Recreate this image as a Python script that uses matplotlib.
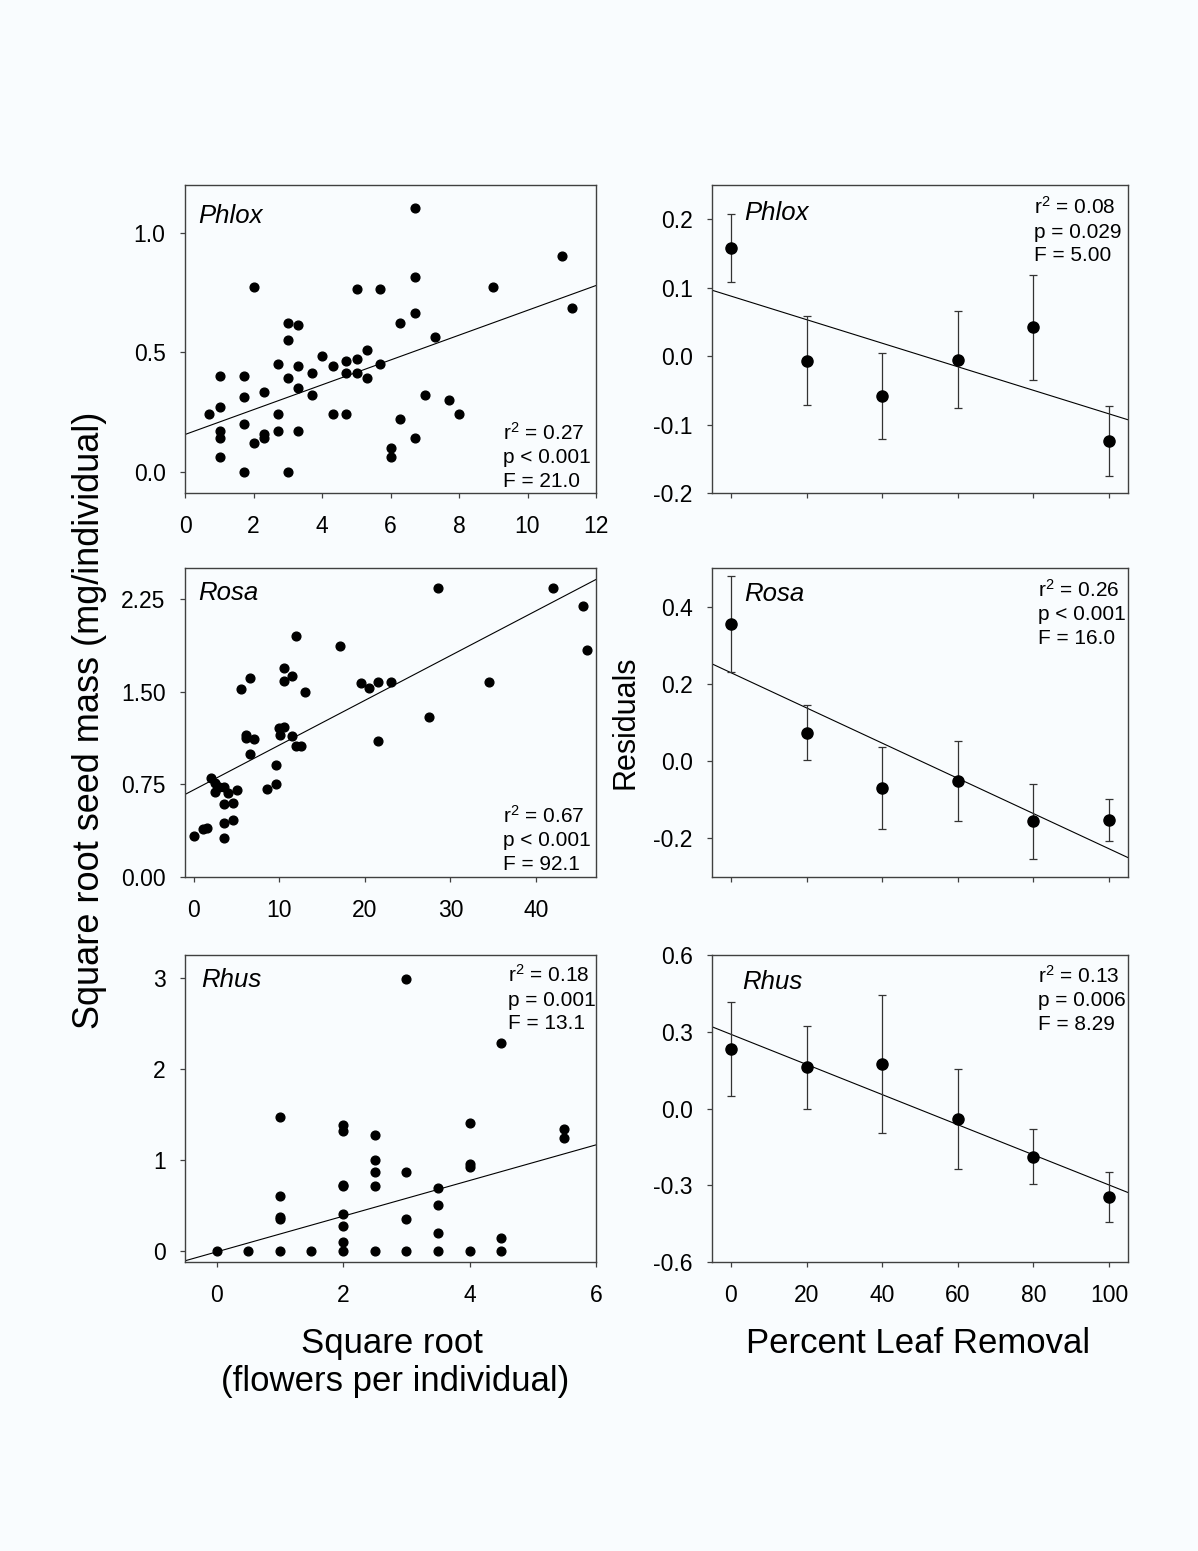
import matplotlib
matplotlib.use("Agg")
import matplotlib.pyplot as plt
import numpy as np

plt.rcParams['font.family'] = ['Liberation Sans', 'DejaVu Sans']
plt.rcParams['mathtext.fontset'] = 'custom'
plt.rcParams['mathtext.rm'] = 'Liberation Sans'
plt.rcParams['mathtext.it'] = 'Liberation Sans:italic'
plt.rcParams['mathtext.default'] = 'regular'
plt.rcParams['axes.unicode_minus'] = False

# ---------------- data ----------------
phlox_x = [6.71, 11.0, 2.02, 5.01, 5.70, 6.71, 8.99, 11.30, 6.71, 6.29, 3.0, 3.30, 3.0, 7.30,
           4.01, 5.30, 5.01, 4.70, 4.31, 5.69, 2.71, 3.30, 1.01, 1.71, 3.71, 4.70, 5.01, 5.30,
           3.0, 3.30, 3.71, 2.31, 1.71, 7.0, 7.71, 1.01, 0.71, 2.71, 4.31, 4.70, 8.01, 6.29,
           1.71, 1.01, 2.71, 3.30, 2.31, 1.01, 2.31, 6.71, 2.02, 6.0, 6.0, 1.01, 1.71, 3.0]
phlox_y = [1.103, 0.903, 0.772, 0.763, 0.763, 0.813, 0.772, 0.683, 0.662, 0.621, 0.623, 0.613,
           0.552, 0.562, 0.482, 0.511, 0.470, 0.461, 0.441, 0.451, 0.451, 0.441, 0.401, 0.401,
           0.411, 0.411, 0.411, 0.392, 0.392, 0.351, 0.321, 0.331, 0.310, 0.321, 0.300, 0.270,
           0.239, 0.239, 0.239, 0.239, 0.239, 0.220, 0.200, 0.169, 0.169, 0.169, 0.159, 0.139,
           0.139, 0.139, 0.120, 0.100, 0.059, 0.059, 0.0, 0.0]
phlox_fit = [0.155, 0.052]          # intercept, slope
phlox_stats = ["r$^2$ = 0.27", "p < 0.001", "F = 21.0"]

rosa_x = [0.0, 1.05, 1.55, 2.05, 2.56, 2.56, 3.02, 3.53, 4.07, 3.53, 4.57, 3.53, 4.57, 3.53,
          5.08, 5.54, 6.55, 6.09, 6.09, 7.05, 6.55, 8.53, 9.57, 9.57, 9.96, 10.04, 10.58,
          10.54, 10.54, 11.55, 11.55, 12.02, 12.56, 12.02, 13.06, 17.05, 19.53, 20.54, 21.55,
          23.02, 21.55, 27.52, 28.53, 34.50, 42.0, 45.47, 45.97]
rosa_y = [0.329, 0.391, 0.399, 0.801, 0.763, 0.691, 0.728, 0.728, 0.680, 0.588, 0.599, 0.437,
          0.459, 0.318, 0.707, 1.519, 1.608, 1.149, 1.122, 1.117, 0.998, 0.709, 0.750, 0.909,
          1.203, 1.149, 1.211, 1.689, 1.589, 1.629, 1.141, 1.060, 1.060, 1.948, 1.497, 1.869,
          1.567, 1.527, 1.575, 1.575, 1.098, 1.298, 2.339, 1.578, 2.339, 2.190, 1.837]
rosa_fit = [0.704, 0.03624]
rosa_stats = ["r$^2$ = 0.67", "p < 0.001", "F = 92.1"]

rhus_x = [0.0, 0.5, 1.0, 1.0, 1.0, 1.0, 1.0, 1.5, 2.0, 2.0, 2.0, 2.0, 2.0, 2.0, 2.0, 2.0,
          2.5, 2.5, 2.5, 2.5, 2.5, 3.0, 3.0, 3.0, 3.0, 3.5, 3.5, 3.5, 3.5,
          4.0, 4.0, 4.0, 4.0, 4.5, 4.5, 4.5, 5.5, 5.5]
rhus_y = [0.0, 0.0, 0.0, 0.35, 0.373, 0.60, 1.469, 0.0, 0.0, 0.10, 0.28, 0.41, 0.712, 0.73,
          1.32, 1.384, 0.0, 0.712, 0.867, 1.004, 1.277, 0.0, 0.35, 0.867, 2.989, 0.0, 0.199,
          0.502, 0.69, 0.0, 0.919, 0.952, 1.402, 0.0, 0.14, 2.28, 1.236, 1.339]
rhus_fit = [-0.009, 0.1958]
rhus_stats = ["r$^2$ = 0.18", "p = 0.001", "F = 13.1"]

removal = [0, 20, 40, 60, 80, 100]
phlox_res = [0.158, -0.007, -0.058, -0.005, 0.042, -0.124]
phlox_err = [0.050, 0.065, 0.063, 0.071, 0.077, 0.051]
phlox_res_fit = [0.0877, -0.001721]
phlox_res_stats = ["r$^2$ = 0.08", "p = 0.029", "F = 5.00"]

rosa_res = [0.355, 0.074, -0.069, -0.052, -0.156, -0.152]
rosa_err = [0.124, 0.072, 0.106, 0.104, 0.097, 0.054]
rosa_res_fit = [0.229, -0.00456]
rosa_res_stats = ["r$^2$ = 0.26", "p < 0.001", "F = 16.0"]

rhus_res = [0.233, 0.162, 0.174, -0.042, -0.188, -0.345]
rhus_err = [0.183, 0.162, 0.269, 0.196, 0.106, 0.098]
rhus_res_fit = [0.290, -0.00589]
rhus_res_stats = ["r$^2$ = 0.13", "p = 0.006", "F = 8.29"]

# ---------------- layout ----------------
W, H = 1198, 1551
BG = '#f9fcfe'
fig = plt.figure(figsize=(W / 100, H / 100), dpi=100, facecolor=BG)

def add_ax(l, t, r, b):
    ax = fig.add_axes([l / W, 1 - b / H, (r - l) / W, (b - t) / H])
    ax.set_facecolor(BG)
    for s in ax.spines.values():
        s.set_color('#404040')
        s.set_linewidth(1.0)
    ax.tick_params(direction='out', length=3.5, width=0.9, color='#404040',
                   labelsize=16.5, top=False, right=False)
    ax.tick_params(axis='x', pad=12)
    ax.tick_params(axis='y', pad=10.5)
    return ax

PX = 0.72  # px -> points

def name_label(ax, txt, dx, dy):
    ax.annotate(txt, xy=(0, 1), xycoords='axes fraction', xytext=(dx * PX, -dy * PX),
                textcoords='offset points', ha='left', va='baseline',
                fontsize=18.5, style='italic')

def stats_top(ax, lines, dx, dy, sp=23.5):
    for i, t in enumerate(lines):
        ax.annotate(t, xy=(1, 1), xycoords='axes fraction',
                    xytext=(-dx * PX, -(dy + i * sp) * PX), textcoords='offset points',
                    ha='left', va='baseline', fontsize=15)

def stats_bottom(ax, lines, dx, dy, sp=23.5):
    n = len(lines)
    for i, t in enumerate(lines):
        ax.annotate(t, xy=(1, 0), xycoords='axes fraction',
                    xytext=(-dx * PX, (dy + (n - 1 - i) * sp) * PX), textcoords='offset points',
                    ha='left', va='baseline', fontsize=15)

def scatter_panel(ax, x, y, fit):
    ax.plot(x, y, 'o', color='black', ms=6.3, mec='black', zorder=3)
    ax.axline((0, fit[0]), slope=fit[1], color='black', lw=0.8, zorder=2)

def resid_panel(ax, x, y, e, fit):
    ax.errorbar(x, y, yerr=e, fmt='o', color='black', ms=8, ecolor='#333333',
                elinewidth=0.9, capsize=3.2, capthick=0.9, zorder=3)
    ax.axline((0, fit[0]), slope=fit[1], color='black', lw=0.8, zorder=2)

LL, LR = 185, 596
RL, RR = 712, 1128
rows = [(185, 493), (568, 877), (955, 1262)]

# Left column
ax1 = add_ax(LL, rows[0][0], LR, rows[0][1])
scatter_panel(ax1, phlox_x, phlox_y, phlox_fit)
ax1.set_xlim(0, 12)
ax1.set_ylim(-0.09, 1.2)
ax1.set_xticks(np.arange(0, 13, 2))
ax1.set_yticks([0.0, 0.5, 1.0])
ax1.set_yticklabels(['0.0', '0.5', '1.0'])
name_label(ax1, 'Phlox', 13, 38)
stats_bottom(ax1, phlox_stats, 93, 6.3)

ax2 = add_ax(LL, rows[1][0], LR, rows[1][1])
scatter_panel(ax2, rosa_x, rosa_y, rosa_fit)
ax2.set_xlim(-1, 47)
ax2.set_ylim(0, 2.5)
ax2.set_xticks([0, 10, 20, 30, 40])
ax2.set_yticks([0.0, 0.75, 1.5, 2.25])
ax2.set_yticklabels(['0.00', '0.75', '1.50', '2.25'])
name_label(ax2, 'Rosa', 13, 32)
stats_bottom(ax2, rosa_stats, 93, 7)

ax3 = add_ax(LL, rows[2][0], LR, rows[2][1])
scatter_panel(ax3, rhus_x, rhus_y, rhus_fit)
ax3.set_xlim(-0.5, 6)
ax3.set_ylim(-0.12, 3.25)
ax3.set_xticks([0, 2, 4, 6])
ax3.set_yticks([0, 1, 2, 3])
name_label(ax3, 'Rhus', 16, 32)
stats_top(ax3, rhus_stats, 88, 27)

# Right column
ax4 = add_ax(RL, rows[0][0], RR, rows[0][1])
resid_panel(ax4, removal, phlox_res, phlox_err, phlox_res_fit)
ax4.set_xlim(-5, 105)
ax4.set_ylim(-0.2, 0.25)
ax4.set_xticks(removal)
ax4.set_xticklabels([])
ax4.set_yticks([-0.2, -0.1, 0.0, 0.1, 0.2])
ax4.set_yticklabels(['-0.2', '-0.1', '0.0', '0.1', '0.2'])
name_label(ax4, 'Phlox', 32, 35)
stats_top(ax4, phlox_res_stats, 94, 29)

ax5 = add_ax(RL, rows[1][0], RR, rows[1][1])
resid_panel(ax5, removal, rosa_res, rosa_err, rosa_res_fit)
ax5.set_xlim(-5, 105)
ax5.set_ylim(-0.3, 0.5)
ax5.set_xticks(removal)
ax5.set_xticklabels([])
ax5.set_yticks([-0.2, 0.0, 0.2, 0.4])
ax5.set_yticklabels(['-0.2', '0.0', '0.2', '0.4'])
name_label(ax5, 'Rosa', 32, 33)
stats_top(ax5, rosa_res_stats, 90, 29)

ax6 = add_ax(RL, rows[2][0], RR, rows[2][1])
resid_panel(ax6, removal, rhus_res, rhus_err, rhus_res_fit)
ax6.set_xlim(-5, 105)
ax6.set_ylim(-0.6, 0.6)
ax6.set_xticks(removal)
ax6.set_yticks([-0.6, -0.3, 0.0, 0.3, 0.6])
ax6.set_yticklabels(['-0.6', '-0.3', '0.0', '0.3', '0.6'])
name_label(ax6, 'Rhus', 30, 34)
stats_top(ax6, rhus_res_stats, 90, 28)

# Figure labels
fig.text(90 / W, 1 - 720 / H, 'Square root seed mass (mg/individual)', rotation=90,
         ha='center', va='center', fontsize=26)
fig.text(625 / W, 1 - 722 / H, 'Residuals', rotation=90, ha='center', va='center', fontsize=22)
fig.text(392 / W, 1 - 1353 / H, 'Square root', ha='center', va='baseline', fontsize=25)
fig.text(395 / W, 1 - 1391 / H, '(flowers per individual)', ha='center', va='baseline', fontsize=25)
fig.text(918 / W, 1 - 1353 / H, 'Percent Leaf Removal', ha='center', va='baseline', fontsize=25)

fig.savefig('out.png', dpi=100, facecolor=BG)
